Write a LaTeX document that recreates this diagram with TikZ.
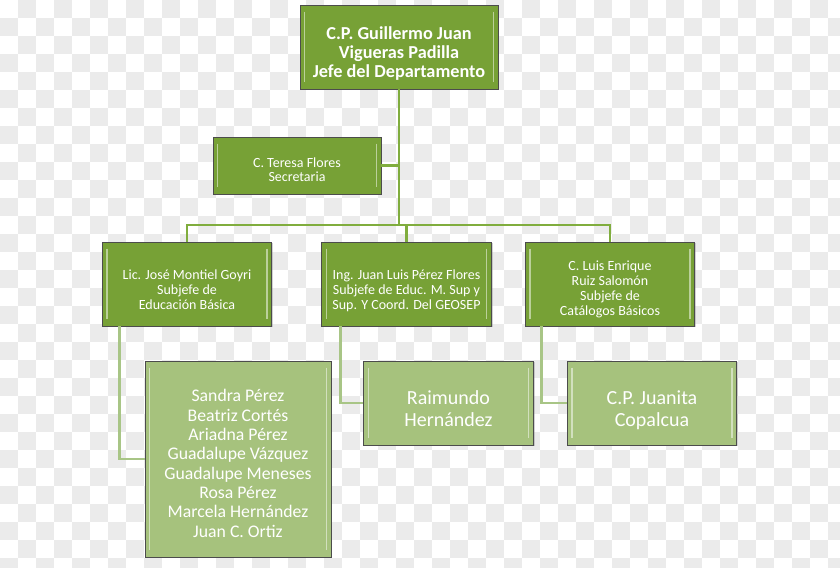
\documentclass[tikz,border=0pt]{standalone}
\usepackage{fontspec}
\setmainfont{Carlito}
\usetikzlibrary{positioning, shadows}
\definecolor{verdeOsc}{HTML}{77A136}
\definecolor{verdeCla}{HTML}{A6C27D}
\definecolor{lineaOsc}{HTML}{80AD3E}
\definecolor{lineaCla}{HTML}{A8C586}
\definecolor{cuadro}{HTML}{EBEBEB}

\begin{document}
\begin{tikzpicture}[x=0.75pt, y=-0.75pt,
          caja/.style={draw=black!70, line width=0.6pt, fill=verdeOsc, text=white,
                       align=center, inner sep=2pt, text depth=0pt,
                       drop shadow={opacity=0.35, shadow xshift=1pt, shadow yshift=-1pt},
                       path picture={\draw[white, opacity=0.5, line width=1.2pt]
                         ([xshift=3.5pt,yshift=-5pt]path picture bounding box.north west) --
                         ([xshift=3.5pt,yshift=5pt]path picture bounding box.south west)
                         ([xshift=-3.5pt,yshift=-5pt]path picture bounding box.north east) --
                         ([xshift=-3.5pt,yshift=5pt]path picture bounding box.south east);}},
          cajaB/.style={caja, fill=verdeCla},
          sub/.style={minimum width=127pt, minimum height=63pt, text height=37.7pt,
                      font=\fontsize{10.5}{11.25}\selectfont},
          abajo/.style={minimum width=127pt, minimum height=63pt, text height=34.8pt,
                        font=\fontsize{15}{16.3}\selectfont},
          con/.style={draw=lineaOsc, line width=2.2pt},
          conB/.style={draw=lineaCla, line width=2.2pt}]
        % fondo
        \useasboundingbox (0,0) rectangle (840,568);
        \clip (0,0) rectangle (840,568);
        \fill[white] (0,0) rectangle (840,568);
        \foreach \j in {0,2,...,30}
          \foreach \i in {0,...,23}
            \fill[cuadro] (18+36*\i, 18*\j) rectangle ++(18,18);
        \foreach \j in {1,3,...,31}
          \foreach \i in {0,...,23}
            \fill[cuadro] (36*\i, 18*\j) rectangle ++(18,18);

        \coordinate (barra) at (399,225);

        \node[caja, minimum width=148.5pt, minimum height=63pt, text height=45.5pt,
              font=\fontsize{13.7}{14.25}\selectfont\bfseries]
          (jefe) at (399,47) {C.P. Guillermo Juan\\Vigueras Padilla\\Jefe del Departamento};
        \node[caja, minimum width=126pt, minimum height=42.75pt, text height=24.5pt,
              font=\fontsize{10.5}{10.8}\selectfont]
          (secre) at (297,165.5) {C. Teresa Flores\\Secretaria};

        \draw[con] (jefe.south) -- (barra);
        \draw[con] (secre.east) -- (secre.east -| jefe.south);

        \node[caja, sub] (sbas) at (187,284) {Lic. José Montiel Goyri\\Subjefe de\\Educación Básica};
        \node[caja, sub] (ssup) at (406.5,284) {Ing. Juan Luis Pérez Flores\\Subjefe de Educ. M. Sup y\\Sup. Y Coord. Del GEOSEP};
        \node[caja, sub, text height=46.5pt] (scat) at (610,284) {C. Luis Enrique\\Ruiz Salomón\\Subjefe de\\Catálogos Básicos};

        \draw[con] (sbas.north) |- (barra) -| (scat.north);
        \draw[con] (barra -| ssup.north) -- (ssup.north);

        \node[cajaB, minimum width=139.5pt, minimum height=147pt, text height=117.2pt,
              font=\fontsize{13.3}{14.5}\selectfont]
          (nombres) at (238,459) {Sandra Pérez\\Beatriz Cortés\\Ariadna Pérez\\Guadalupe Vázquez\\Guadalupe Meneses\\Rosa Pérez\\Marcela Hernández\\Juan C. Ortiz};
        \node[cajaB, abajo] (raim) at (448.5,403) {Raimundo\\Hernández};
        \node[cajaB, abajo] (juana) at (652,403) {C.P. Juanita\\Copalcua};

        \draw[conB] ([xshift=13.5pt]sbas.south west) |- (nombres.west);
        \draw[conB] ([xshift=14.25pt]ssup.south west) |- (raim.west);
        \draw[conB] ([xshift=12.75pt]scat.south west) |- (juana.west);
      \end{tikzpicture}
\end{document}
